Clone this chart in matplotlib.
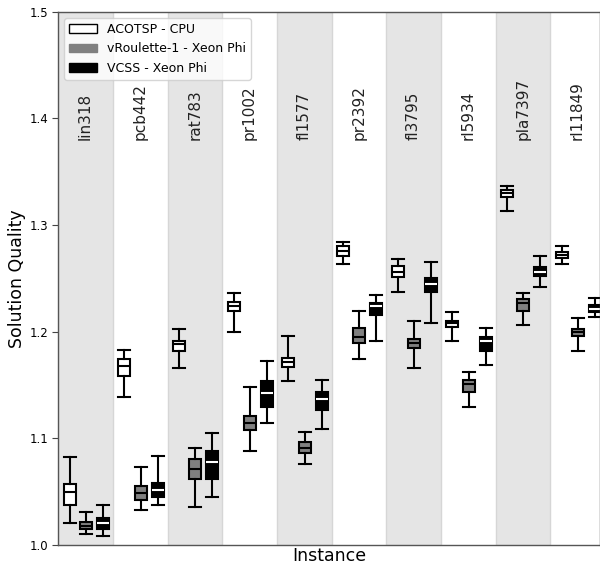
import numpy as np
import matplotlib
matplotlib.use("Agg")
import matplotlib.pyplot as plt
from matplotlib.patches import Patch

instances = ["lin318", "pcb442", "rat783", "pr1002", "fl1577",
             "pr2392", "fl3795", "rl5934", "pla7397", "rl11849"]

# ACOTSP - CPU: low whisker, q1, median, q3, high whisker
cpu_lo = [1.020, 1.1385, 1.166, 1.200, 1.154, 1.263, 1.237, 1.191, 1.313, 1.263]
cpu_q1 = [1.037, 1.158, 1.182, 1.219, 1.167, 1.271, 1.251, 1.204, 1.326, 1.269]
cpu_med = [1.049, 1.168, 1.188, 1.224, 1.171, 1.276, 1.256, 1.208, 1.330, 1.272]
cpu_q3 = [1.057, 1.174, 1.191, 1.228, 1.175, 1.280, 1.262, 1.210, 1.333, 1.2745]
cpu_hi = [1.082, 1.183, 1.202, 1.236, 1.196, 1.284, 1.268, 1.218, 1.337, 1.280]

# vRoulette-1 - Xeon Phi
vr_lo = [1.010, 1.033, 1.035, 1.088, 1.076, 1.1745, 1.166, 1.129, 1.206, 1.182]
vr_q1 = [1.015, 1.042, 1.062, 1.108, 1.086, 1.189, 1.185, 1.143, 1.219, 1.196]
vr_med = [1.018, 1.0485, 1.071, 1.114, 1.091, 1.195, 1.189, 1.151, 1.2267, 1.200]
vr_q3 = [1.021, 1.055, 1.080, 1.121, 1.096, 1.203, 1.193, 1.155, 1.2305, 1.2026]
vr_hi = [1.031, 1.0725, 1.091, 1.1476, 1.106, 1.219, 1.2095, 1.1617, 1.236, 1.2126]

# VCSS - Xeon Phi
vc_lo = [1.008, 1.0375, 1.0444, 1.114, 1.109, 1.191, 1.208, 1.169, 1.2417, 1.2136]
vc_q1 = [1.015, 1.0447, 1.062, 1.129, 1.126, 1.2158, 1.237, 1.182, 1.2526, 1.218]
vc_med = [1.020, 1.0516, 1.078, 1.142, 1.137, 1.224, 1.245, 1.191, 1.2564, 1.2214]
vc_q3 = [1.025, 1.058, 1.0875, 1.154, 1.143, 1.2267, 1.250, 1.1954, 1.2605, 1.225]
vc_hi = [1.0375, 1.083, 1.105, 1.172, 1.155, 1.2345, 1.265, 1.203, 1.2705, 1.2314]

series = [
    ("ACOTSP - CPU", "white", "black", -0.29, (cpu_lo, cpu_q1, cpu_med, cpu_q3, cpu_hi)),
    ("vRoulette-1 - Xeon Phi", "#808080", "black", 0.01, (vr_lo, vr_q1, vr_med, vr_q3, vr_hi)),
    ("VCSS - Xeon Phi", "black", "white", 0.32, (vc_lo, vc_q1, vc_med, vc_q3, vc_hi)),
]

fig = plt.figure(figsize=(6.0, 5.68), dpi=100)
ax = fig.add_axes([0.097, 0.041, 0.903, 0.938])

# alternating background bands
for i in range(len(instances)):
    if i % 2 == 0:
        ax.axvspan(i - 0.5, i + 0.5, facecolor="#e5e5e5", edgecolor="#d6d6d6",
                   linewidth=1.0, zorder=0)
    ax.text(i, 1.38, instances[i], rotation=90, ha="center", va="bottom",
            fontsize=11, color="#222222")

handles = []
for label, fc, medc, off, (lo, q1, med, q3, hi) in series:
    stats = []
    for k in range(len(instances)):
        stats.append(dict(whislo=lo[k], q1=q1[k], med=med[k], q3=q3[k],
                          whishi=hi[k], fliers=[]))
    pos = np.arange(len(instances)) + off
    ax.bxp(stats, positions=pos, widths=0.22, patch_artist=True,
           showfliers=False, manage_ticks=False,
           boxprops=dict(facecolor=fc, edgecolor="black", linewidth=1.5),
           medianprops=dict(color=medc, linewidth=1.5),
           whiskerprops=dict(color="black", linewidth=1.5),
           capprops=dict(color="black", linewidth=1.5),
           capwidths=0.22)
    handles.append(Patch(facecolor=fc, edgecolor="black" if fc == "white" else fc,
                         label=label))

ax.set_xlim(-0.5, 9.41)
ax.set_ylim(1.0, 1.5)
ax.set_yticks([1.0, 1.1, 1.2, 1.3, 1.4, 1.5])
ax.set_xticks([])
ax.tick_params(axis="y", labelsize=8.5, length=4, color="#444444", pad=3)
for s in ax.spines.values():
    s.set_color("#555555")
    s.set_linewidth(1.0)

ax.set_ylabel("Solution Quality", fontsize=12.5)
ax.yaxis.set_label_coords(-0.06, 0.5)
ax.set_xlabel("Instance", fontsize=12.5, labelpad=2)
ax.legend(handles=handles, loc="upper left", fontsize=9, framealpha=0.8,
          edgecolor="#cccccc", handlelength=2.2)

fig.savefig("out.png", dpi=100)
